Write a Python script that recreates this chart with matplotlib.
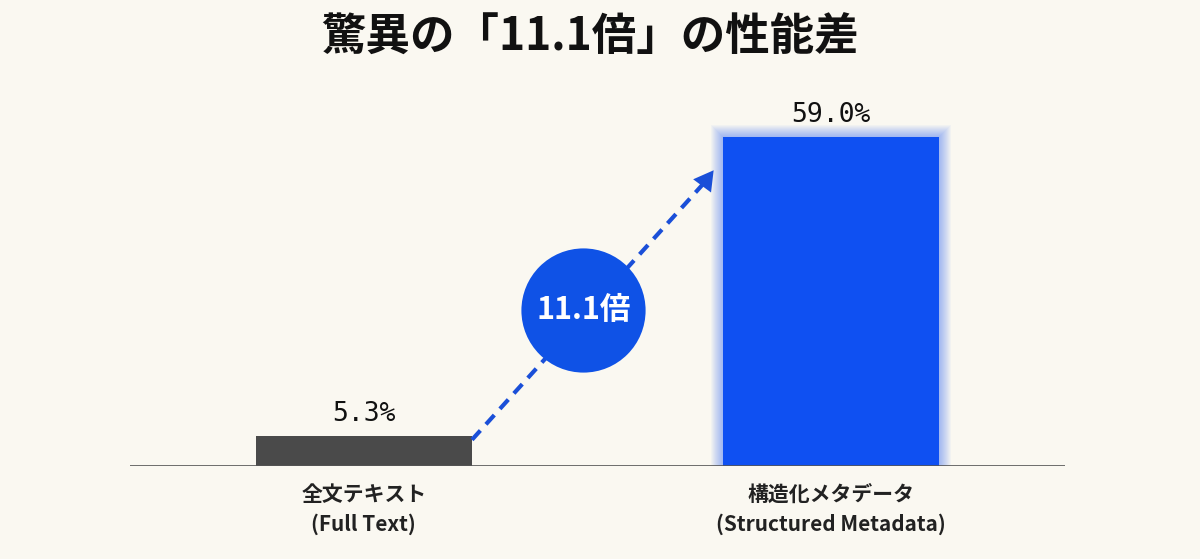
import matplotlib.pyplot as plt

plt.rcParams['font.family'] = ['Noto Sans CJK JP', 'DejaVu Sans']

categories = ['全文テキスト\n(Full Text)', '構造化メタデータ\n(Structured Metadata)']
values = [5.3, 59.0]
value_labels = ['5.3%', '59.0%']
ratio_label = '11.1倍'
title = '驚異の「11.1倍」の性能差'

bg = '#FAF8F1'
blue = '#0F50F2'
gray = '#4A4A4A'

fig = plt.figure(figsize=(12, 5.59), dpi=100, facecolor=bg)
ax = fig.add_axes([130 / 1200, 93 / 559, 935 / 1200, 390.6 / 559])
ax.set_facecolor(bg)
ax.set_xlim(-0.5, 1.5)
ax.set_ylim(0, 70)

x = [0, 1]
w = 0.463

# soft glow around the blue bar (layered, widening, faint)
px_x = 2 / 935   # data units per pixel, x
px_y = 70 / 390.6  # data units per pixel, y
for n in range(12, 0, -1):
    ax.bar(x[1], values[1] + 2 * n * px_y, width=w + 2 * n * px_x, bottom=-n * px_y,
           color=blue, alpha=0.035, linewidth=0, zorder=1)
ax.bar(x[0], values[0], width=w, color=gray, zorder=2)
ax.bar(x[1], values[1], width=w, color=blue, zorder=2)

for xi, v, lab in zip(x, values, value_labels):
    ax.text(xi, v + 1.6, lab, ha='center', va='bottom', fontsize=19,
            family='DejaVu Sans Mono', color='#111111')

# dashed arrow from small bar to big bar
x0, y0 = x[0] + w / 2, values[0] - 0.6
x1, y1 = 0.752, 53.4
ax.plot([x0, x1 - 0.02], [y0, y1 - 2.3], ls=(0, (3, 2)), color='#1a4fd8', lw=3, zorder=3)
ax.annotate('', xy=(x1, y1), xytext=(x1 - 0.03, y1 - 3.4),
            arrowprops=dict(arrowstyle='-|>,head_length=1.4,head_width=0.8',
                            color='#1a4fd8', lw=0), zorder=3)

# ratio badge
ax.scatter([0.47], [28], s=124 ** 2 * 0.52, color='#0F52E6', zorder=4, linewidths=0)
ax.text(0.47, 28, ratio_label, ha='center', va='center', color='white',
        fontsize=22, fontweight='bold', zorder=5)

ax.axhline(0, color='#555555', lw=1.2, zorder=3)
for s in ax.spines.values():
    s.set_visible(False)
ax.set_xticks(x)
ax.set_xticklabels(categories, fontsize=15, fontweight='bold', color='#222222', linespacing=1.45)
ax.tick_params(axis='x', length=0, pad=13)
ax.set_yticks([])

fig.text(590 / 1200, 1 - 38 / 559, title, ha='center', va='center', fontsize=32,
         fontweight='bold', color='#111111')

fig.savefig('out.png', dpi=100, facecolor=bg)
